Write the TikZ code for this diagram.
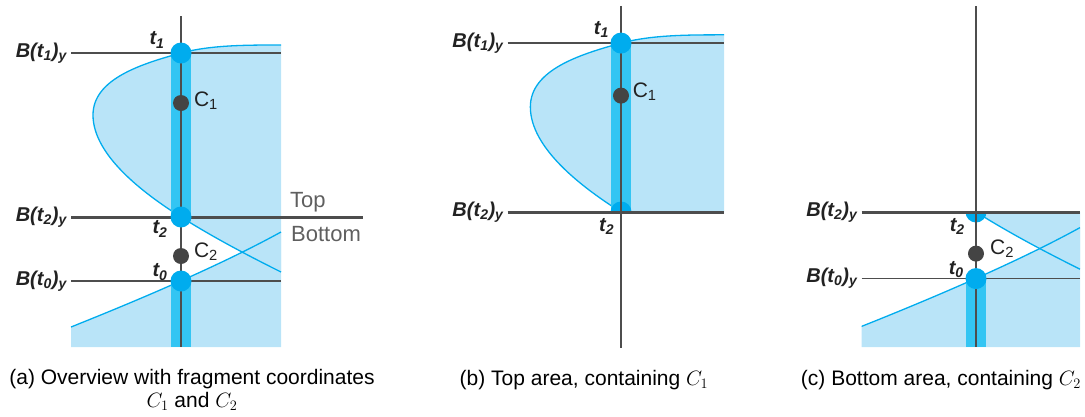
\documentclass[tikz,border=0pt]{standalone}
\usepackage{fontspec}
\setmainfont{Liberation Sans}
\usetikzlibrary{positioning}

\definecolor{areablue}{RGB}{185,228,248}
\definecolor{bandblue}{RGB}{51,197,243}
\definecolor{curveblue}{RGB}{0,172,238}
\definecolor{axisgray}{RGB}{77,77,77}
\definecolor{dotgray}{RGB}{68,68,68}
\definecolor{sidegray}{RGB}{95,95,95}
\definecolor{labelblack}{RGB}{34,34,34}

% the two boundary curves, in pt around the t2 point
\newcommand{\topcurve}{(100,-172) .. controls (65,-172) and (30,-172) .. (0,-164) .. controls (-40,-153) and (-88,-138) .. (-88,-102) .. controls (-88,-62) and (-38,-24) .. (0,0) .. controls (35,22) and (70,40) .. (100,55)}
\newcommand{\botcurve}{(-110,110) .. controls (-40,82) and (40,48) .. (100,15)}

\begin{document}
\begin{tikzpicture}[x=1pt,y=-1pt,
    areafill/.style={fill=areablue},
    bandfill/.style={fill=bandblue},
    curveline/.style={draw=curveblue,line width=1.3},
    axisline/.style={draw=axisgray,line width=2},
    levelline/.style={draw=axisgray,line width=1.6},
    splitline/.style={draw=axisgray,line width=3},
    bdot/.style={circle,fill=curveblue,inner sep=0,minimum size=21},
    cdot/.style={circle,fill=dotgray,inner sep=0,minimum size=16},
    blabel/.style={font=\fontsize{20}{22}\selectfont\bfseries\itshape,text=labelblack,inner sep=0},
    clabel/.style={font=\fontsize{21}{23}\selectfont,text=labelblack,inner sep=0},
    sidelabel/.style={font=\fontsize{22}{24}\selectfont,text=sidegray,inner sep=0,anchor=west},
    capnode/.style={font=\fontsize{21}{23}\selectfont,align=center,inner sep=0}]
    \useasboundingbox (0,0) rectangle (1085,416);

    % (a) overview
    \begin{scope}[shift={(181,217)}]
        \fill[areafill] \topcurve -- cycle;
        \fill[areafill] \botcurve -- (100,130) -- (-110,130) -- cycle;
        \draw[curveline] \topcurve;
        \draw[curveline] \botcurve;
        \fill[bandfill] (-10,-164) rectangle (10,0);
        \fill[bandfill] (-10,64) rectangle (10,130);
        \coordinate (axtopa) at (0,-201);
        \coordinate (axbota) at (0,130);
        \coordinate (l1a) at (-110,-164);
        \coordinate (r1a) at (100,-164);
        \coordinate (l2a) at (-110,0);
        \coordinate (r2a) at (182,0);
        \coordinate (l0a) at (-110,64);
        \coordinate (r0a) at (100,64);
        \draw[axisline] (axtopa) -- (axbota);
        \draw[levelline] (l1a) -- (r1a);
        \draw[splitline] (l2a) -- (r2a);
        \draw[levelline] (l0a) -- (r0a);
        \node[bdot] (t1a) at (0,-164) {};
        \node[bdot] (t2a) at (0,0) {};
        \node[bdot] (t0a) at (0,64) {};
        \node[cdot] (c1a) at (0,-114) {};
        \node[cdot] (c2a) at (0,39) {};
        \node[blabel,left=4pt of l1a] (bt1a) {B(t\textsubscript{1})\textsubscript{y}};
        \node[blabel,left=4pt of l2a] (bt2a) {B(t\textsubscript{2})\textsubscript{y}};
        \node[blabel,left=4pt of l0a] (bt0a) {B(t\textsubscript{0})\textsubscript{y}};
        \node[blabel] (lt1a) at (-24,-177) {t\textsubscript{1}};
        \node[blabel] (lt2a) at (-21,12) {t\textsubscript{2}};
        \node[blabel] (lt0a) at (-21,55) {t\textsubscript{0}};
        \node[clabel] (lc1a) at (25,-116) {C\textsubscript{1}};
        \node[clabel] (lc2a) at (25,35) {C\textsubscript{2}};
        \node[sidelabel] (topa) at (109,-15) {Top};
        \node[sidelabel] (bota) at (110,17.5) {Bottom};
    \end{scope}

    % (b) top area
    \begin{scope}[shift={(621,212)},scale=1.03]
        \begin{scope}
            \clip (-120,-210) rectangle (100,0);
            \fill[areafill] \topcurve -- cycle;
            \draw[curveline] \topcurve;
            \fill[bandfill] (-10,-164) rectangle (10,0);
            \node[bdot] (t2b) at (0,0) {};
        \end{scope}
        \coordinate (axtopb) at (0,-200);
        \coordinate (axbotb) at (0,132);
        \coordinate (l1b) at (-110,-164);
        \coordinate (r1b) at (100,-164);
        \coordinate (l2b) at (-110,0);
        \coordinate (r2b) at (100,0);
        \draw[axisline] (axtopb) -- (axbotb);
        \draw[levelline] (l1b) -- (r1b);
        \draw[splitline] (l2b) -- (r2b);
        \node[bdot] (t1b) at (0,-164) {};
        \node[cdot] (c1b) at (0,-113) {};
        \node[blabel,left=4pt of l1b] (bt1b) {B(t\textsubscript{1})\textsubscript{y}};
        \node[blabel,left=4pt of l2b] (bt2b) {B(t\textsubscript{2})\textsubscript{y}};
        \node[blabel] (lt1b) at (-19,-177) {t\textsubscript{1}};
        \node[blabel] (lt2b) at (-14,14) {t\textsubscript{2}};
        \node[clabel] (lc1b) at (23,-117) {C\textsubscript{1}};
    \end{scope}

    % (c) bottom area
    \begin{scope}[shift={(976,212)},scale=1.04]
        \begin{scope}
            \clip (-110,0) rectangle (100,130);
            \fill[areafill] \topcurve -- cycle;
            \fill[areafill] \botcurve -- (100,130) -- (-110,130) -- cycle;
            \draw[curveline] \topcurve;
            \draw[curveline] \botcurve;
            \fill[bandfill] (-10,64) rectangle (10,130);
            \node[bdot] (t2c) at (0,0) {};
        \end{scope}
        \coordinate (axtopc) at (0,-198);
        \coordinate (axbotc) at (0,130);
        \coordinate (l2c) at (-110,0);
        \coordinate (r2c) at (100,0);
        \coordinate (l0c) at (-110,64);
        \coordinate (r0c) at (100,64);
        \draw[axisline] (axtopc) -- (axbotc);
        \draw[splitline] (l2c) -- (r2c);
        \draw[levelline] (l0c) -- (r0c);
        \node[bdot] (t0c) at (0,64) {};
        \node[cdot] (c2c) at (0,40) {};
        \node[blabel,left=4pt of l2c] (bt2c) {B(t\textsubscript{2})\textsubscript{y}};
        \node[blabel,left=4pt of l0c] (bt0c) {B(t\textsubscript{0})\textsubscript{y}};
        \node[blabel] (lt2c) at (-18,14) {t\textsubscript{2}};
        \node[blabel] (lt0c) at (-19,55) {t\textsubscript{0}};
        \node[clabel] (lc2c) at (25,35) {C\textsubscript{2}};
    \end{scope}

    % captions
    \node[capnode] (capa) at (192,390) {(a) Overview with fragment coordinates\\$C_1$ and $C_2$};
    \node[capnode] (capb) at (584,380) {(b) Top area, containing $C_1$};
    \node[capnode] (capc) at (941,380) {(c) Bottom area, containing $C_2$};
\end{tikzpicture}
\end{document}
